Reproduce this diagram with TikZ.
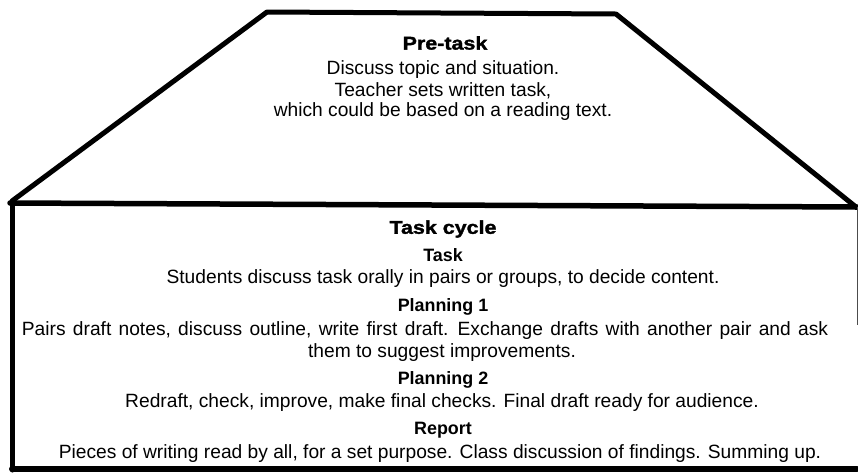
\documentclass[tikz,border=0pt]{standalone}
\usepackage{fontspec}
\setmainfont{Liberation Sans}
\newfontfamily\blackfont{Liberation Sans Bold}[FakeBold=1.6, FakeStretch=1.16]
\begin{document}
\begin{tikzpicture}[x=1pt,y=-1pt,
  body/.style={font=\fontsize{19.2}{21}\selectfont, align=center, inner sep=0pt, anchor=center},
  head/.style={font=\fontsize{17.9}{21}\selectfont\bfseries, inner sep=0pt, anchor=center},
  bighead/.style={font=\fontsize{18.5}{21}\selectfont\blackfont, inner sep=0pt, anchor=center},
  thick line/.style={line width=5pt, line cap=round, line join=round}]
\useasboundingbox (0,0) rectangle (858,475);
% pre-task trapezoid
\draw[thick line] (12,201) -- (267,12) -- (616,14) -- (856,207);
% task cycle box
\draw[thick line, line width=5.5pt] (10,203) -- (857,207);
\draw[thick line] (12,203) -- (12,470);
\draw[thick line, line width=6pt] (12,469) -- (857,469);
\draw[line width=1pt, black!70] (857,207) -- (857,325);
% texts
\node[bighead] (pre) at (445,43) {Pre-task};
\node[body] (pre1) at (443,70) {Discuss topic and situation.};
\node[body] (pre2) at (443,91) {Teacher sets written task,};
\node[body] (pre3) at (443,112) {which could be based on a reading text.};
\node[bighead] (cyc) at (443,229) {Task cycle};
\node[head] (task) at (443,255) {Task};
\node[body] (task1) at (443,279) {Students discuss task orally in pairs or groups, to decide content.};
\node[head] (pl1) at (443,307) {Planning 1};
\node[body] (pl1a) at (425,331) {\spaceskip=7.3pt plus 1pt\relax Pairs draft notes, discuss outline, write first draft. Exchange drafts with another pair and ask};
\node[body] (pl1b) at (442,353) {them to suggest improvements.};
\node[head] (pl2) at (443,380) {Planning 2};
\node[body] (pl2a) at (442,403) {Redraft, check, improve, make final checks. Final draft ready for audience.};
\node[head] (rep) at (443,430) {Report};
\node[body] (rep1) at (440,454) {Pieces of writing read by all, for a set purpose. Class discussion of findings. Summing up.};
\end{tikzpicture}
\end{document}
